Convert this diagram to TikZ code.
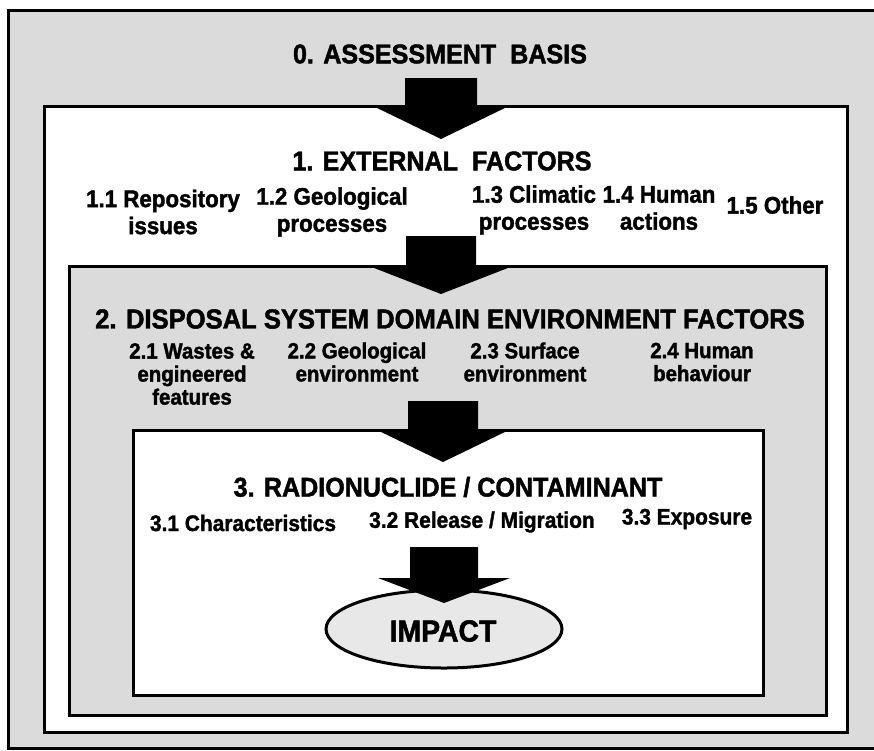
\documentclass[tikz,border=0pt]{standalone}
\usepackage{fontspec}
\setmainfont{Liberation Sans}[FakeStretch=0.93, BoldFeatures={FakeBold=1.6}]
\usetikzlibrary{shapes.geometric}
\definecolor{stipple}{gray}{0.86}
\definecolor{stipplelight}{gray}{0.91}
\newcommand\fatarrow[6]{% cx, shaft top, head top, tip y, shaft half, head half
  \fill[black] ({#1-#5},#2) -- ({#1+#5},#2) -- ({#1+#5},#3) -- ({#1+#6},#3)
    -- (#1,#4) -- ({#1-#6},#3) -- ({#1-#5},#3) -- cycle;}
\tikzset{
  frame/.style={draw=black, line width=3pt, rectangle, inner sep=0pt},
  headtext/.style={font=\fontsize{27}{30}\selectfont\bfseries, inner sep=0pt},
  itemone/.style={font=\fontsize{24}{27}\selectfont\bfseries, align=center, inner sep=0pt},
  itemtwo/.style={font=\fontsize{22}{23}\selectfont\bfseries, align=center, inner sep=0pt},
  itemthree/.style={font=\fontsize{22.5}{24}\selectfont\bfseries, align=center, inner sep=0pt},
}
\begin{document}
\begin{tikzpicture}[x=1pt,y=-1pt]
\useasboundingbox (0,0) rectangle (874,750);
% outer frame
\node[frame, fill=stipple, minimum width=880pt, minimum height=738pt] (outer) at (448,379) {};
% box 1
\node[frame, fill=white, minimum width=803pt, minimum height=626pt] (b1) at (445.5,419) {};
\fatarrow{441}{78}{106}{139}{36}{68}
% box 2
\node[frame, fill=stipple, minimum width=757pt, minimum height=449pt] (b2) at (447.5,490.5) {};
\fatarrow{441}{236}{266}{294}{35}{72}
% box 3
\node[frame, fill=white, minimum width=630pt, minimum height=265pt] (b3) at (448,562.5) {};
\fatarrow{443}{401}{430}{462}{35}{66}
% impact
\node[ellipse, draw=black, line width=3pt, fill=stipplelight, minimum width=236pt, minimum height=78pt, inner sep=0pt] (impact) at (444,629) {};
\fatarrow{444}{547}{578}{603}{34}{66}
\node[font=\fontsize{30.5}{32}\selectfont\bfseries, inner sep=0pt] (impacttext) at (443,631) {IMPACT};
% headings
\node[headtext] (h0) at (440,54) {0. ASSESSMENT~ BASIS};
\node[headtext] (h1) at (442,161) {1. EXTERNAL~ FACTORS};
\node[headtext, font=\fontsize{27.5}{30}\selectfont\bfseries] (h2) at (450,319) {2. DISPOSAL SYSTEM DOMAIN ENVIRONMENT FACTORS};
\node[headtext] (h3) at (448,487) {3. RADIONUCLIDE / CONTAMINANT};
% items 1
\node[itemone] (i11) at (163,212) {1.1 Repository\\issues};
\node[itemone] (i12) at (332,212) {1.2 Geological\\processes};
\node[itemone] (i13) at (534,210) {1.3 Climatic\\processes};
\node[itemone] (i14) at (659,208) {1.4 Human\\actions};
\node[itemone] (i15) at (775,205) {1.5 Other};
% items 2
\node[itemtwo] (i21) at (192,374) {2.1 Wastes \&\\engineered\\features};
\node[itemtwo] (i22) at (357,362) {2.2 Geological\\environment};
\node[itemtwo] (i23) at (525,362) {2.3 Surface\\environment};
\node[itemtwo] (i24) at (702,362) {2.4 Human\\behaviour};
% items 3
\node[itemthree] (i31) at (243,523) {3.1 Characteristics};
\node[itemthree] (i32) at (482,522) {3.2 Release / Migration};
\node[itemthree] (i33) at (687,519) {3.3 Exposure};
\end{tikzpicture}
\end{document}
